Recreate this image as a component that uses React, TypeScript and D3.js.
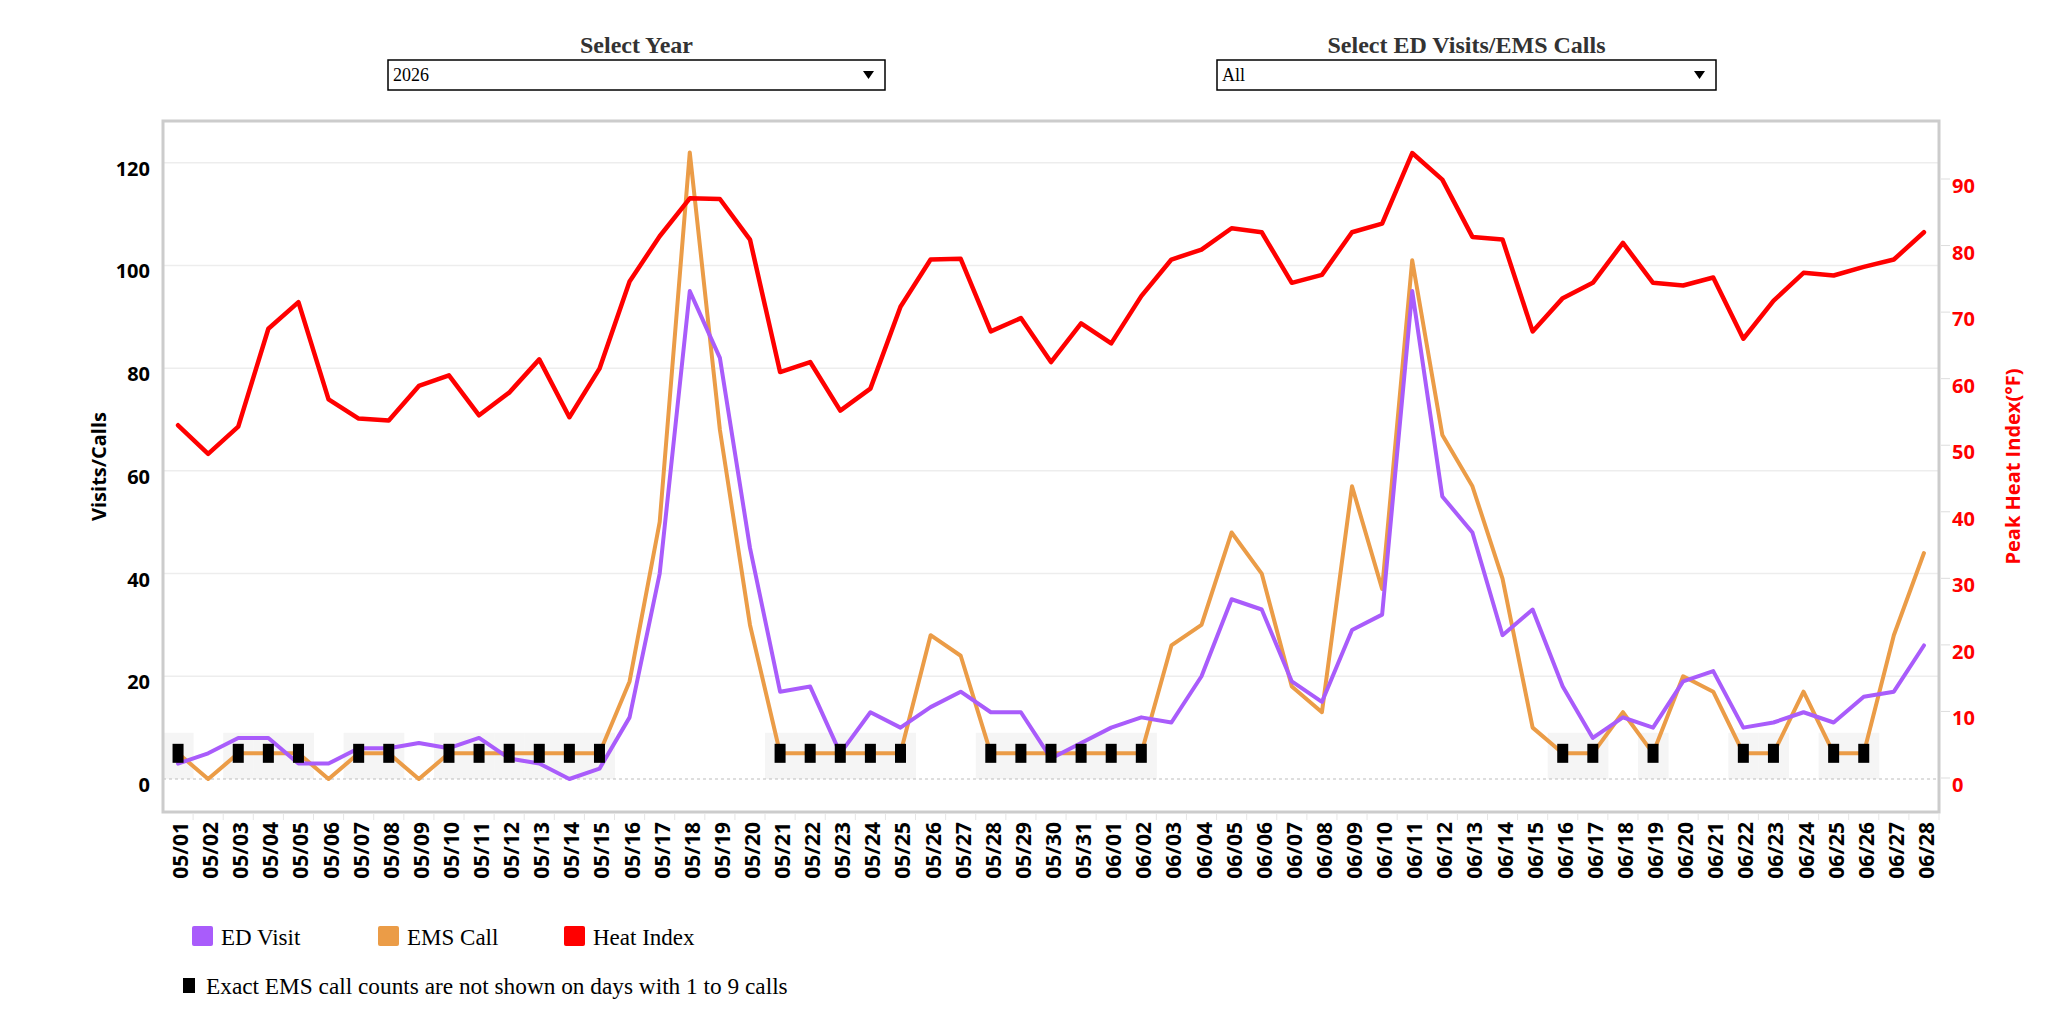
import React from 'react';
import * as d3 from 'd3';

// daily categories, 05/01 - 06/28
const days = [
  '05/01', '05/02', '05/03', '05/04', '05/05', '05/06', '05/07', '05/08', '05/09', '05/10',
  '05/11', '05/12', '05/13', '05/14', '05/15', '05/16', '05/17', '05/18', '05/19', '05/20',
  '05/21', '05/22', '05/23', '05/24', '05/25', '05/26', '05/27', '05/28', '05/29', '05/30',
  '05/31', '06/01', '06/02', '06/03', '06/04', '06/05', '06/06', '06/07', '06/08', '06/09',
  '06/10', '06/11', '06/12', '06/13', '06/14', '06/15', '06/16', '06/17', '06/18', '06/19',
  '06/20', '06/21', '06/22', '06/23', '06/24', '06/25', '06/26', '06/27', '06/28',
];

const edVisits = [
  3, 5, 8, 8, 3, 3, 6, 6, 7, 6, 8, 4, 3, 0, 2,
  12, 40, 95, 82, 45, 17, 18, 5, 13, 10, 14, 17, 13, 13, 4,
  7, 10, 12, 11, 20, 35, 33, 19, 15, 29, 32, 95, 55, 48, 28,
  33, 18, 8, 12, 10, 19, 21, 10, 11, 13, 11, 16, 17, 26,
];

// null = 1 to 9 calls (not shown exactly)
const emsCalls: (number | null)[] = [
  null, 0, null, null, null, 0, null, null, 0, null, null, null, null, null, null,
  19, 50, 122, 68, 30, null, null, null, null, null, 28, 24, null, null, null,
  null, null, null, 26, 30, 48, 40, 18, 13, 57, 37, 101, 67, 57, 39,
  10, null, null, 13, null, 20, 17, null, null, 17, null, null, 28, 44,
];

const heatIndex = [
  53.0, 48.7, 52.8, 67.5, 71.5, 56.9, 54.0, 53.7, 58.9, 60.5, 54.5, 57.9, 62.9, 54.2, 61.5,
  74.6, 81.4, 87.1, 87.0, 80.9, 61.0, 62.5, 55.2, 58.5, 70.8, 77.9, 78.0, 67.1, 69.1, 62.5,
  68.3, 65.3, 72.4, 77.9, 79.4, 82.6, 82.0, 74.4, 75.6, 82.0, 83.3, 93.9, 89.9, 81.3, 80.9,
  67.1, 72.1, 74.4, 80.4, 74.4, 74.0, 75.2, 66.0, 71.7, 75.9, 75.5, 76.8, 77.9, 82.0,
];

const leftTicks = [0, 20, 40, 60, 80, 100, 120];
const rightTicks = [0, 10, 20, 30, 40, 50, 60, 70, 80, 90];

const suppressedShown = 5;
const suppressedMax = 9;

const colors = {
  ed: '#a95cfb',
  ems: '#eb9c47',
  heat: '#ff0000',
};

const legendItems = [
  { label: 'ED Visit', color: colors.ed },
  { label: 'EMS Call', color: colors.ems },
  { label: 'Heat Index', color: colors.heat },
];

const dim = {
  width: 2048,
  height: 1021,
  left: 163,
  right: 1939,
  top: 121,
  bottom: 812,
};

const sans = "'Open Sans', 'Noto Sans', sans-serif";
const serif = "'Liberation Serif', 'Times New Roman', serif";

const Dropdown = ({ title, value, x, w }: { title: string; value: string; x: number; w: number }) => (
  <g>
    <text x={x + w / 2} y={53} textAnchor="middle" fontFamily={serif} fontWeight="bold" fontSize={24} fill="#333">
      {title}
    </text>
    <rect x={x} y={60} width={w} height={30} fill="#fff" stroke="#000" strokeWidth={1.5} />
    <text x={x + 5} y={81} fontFamily={serif} fontSize={18} fill="#000">
      {value}
    </text>
    <path d={`M${x + w - 22},71 h11 l-5.5,8 z`} fill="#000" />
  </g>
);

const App = () => {
  const x = d3.scaleBand<string>().domain(days).range([dim.left, dim.right]);
  const bw = x.bandwidth();
  const cx = (i: number) => (x(days[i]) as number) + bw / 2;

  const yL = d3.scaleLinear().domain([0, 120]).range([779, 162.7]);
  const yR = d3.scaleLinear().domain([0, 90]).range([778, 179]);

  const leftLine = d3
    .line<number>()
    .x((_, i) => cx(i))
    .y((v) => yL(v));
  const rightLine = d3
    .line<number>()
    .x((_, i) => cx(i))
    .y((v) => yR(v));

  const emsPlotted = emsCalls.map((v) => (v === null ? suppressedShown : v));
  const suppressedIdx = emsCalls.map((v, i) => (v === null ? i : -1)).filter((i) => i >= 0);

  return (
    <svg
      width={dim.width}
      height={dim.height}
      style={{ position: 'absolute', left: 0, top: 0, background: '#fff' }}
    >
      <Dropdown title="Select Year" value="2026" x={388} w={497} />
      <Dropdown title="Select ED Visits/EMS Calls" value="All" x={1217} w={499} />

      {/* grid */}
      {leftTicks
        .filter((t) => t > 0)
        .map((t) => (
          <line key={t} x1={dim.left} x2={dim.right} y1={yL(t)} y2={yL(t)} stroke="#ededed" strokeWidth={1.5} />
        ))}

      {/* bands behind suppressed EMS days */}
      {suppressedIdx.map((i) => (
        <rect
          key={`b${i}`}
          x={x(days[i]) as number}
          width={bw + 0.5}
          y={yL(suppressedMax)}
          height={yL(0) - yL(suppressedMax)}
          fill="#f5f5f5"
        />
      ))}

      <line
        x1={dim.left}
        x2={dim.right}
        y1={yL(0)}
        y2={yL(0)}
        stroke="#bdbdbd"
        strokeWidth={1}
        strokeDasharray="3,3"
      />

      {/* border */}
      <rect
        x={dim.left}
        y={dim.top}
        width={dim.right - dim.left}
        height={dim.bottom - dim.top}
        fill="none"
        stroke="#cccccc"
        strokeWidth={3}
      />

      {/* x ticks + labels */}
      {days.map((d) => (
        <line
          key={`t${d}`}
          x1={(x(d) as number) + bw}
          x2={(x(d) as number) + bw}
          y1={dim.bottom + 1}
          y2={dim.bottom + 8}
          stroke="#e6e6e6"
          strokeWidth={1}
        />
      ))}
      {days.map((d, i) => (
        <text
          key={`l${d}`}
          transform={`translate(${cx(i) + 10},822) rotate(-90)`}
          textAnchor="end"
          fontFamily={sans}
          fontWeight="bold"
          fontSize={21}
          fill="#000"
        >
          {d}
        </text>
      ))}

      {/* left axis */}
      {leftTicks.map((t) => (
        <text
          key={`yl${t}`}
          x={150}
          y={yL(t) + 13}
          textAnchor="end"
          fontFamily={sans}
          fontWeight="bold"
          fontSize={20}
          fill="#000"
        >
          {t}
        </text>
      ))}
      <text
        transform={`translate(106,${(dim.top + dim.bottom) / 2}) rotate(-90)`}
        textAnchor="middle"
        fontFamily={sans}
        fontWeight="bold"
        fontSize={20}
        fill="#000"
      >
        Visits/Calls
      </text>

      {/* right axis */}
      {rightTicks.map((t) => (
        <g key={`yr${t}`}>
          <line x1={dim.right + 2} x2={dim.right + 11} y1={yR(t)} y2={yR(t)} stroke="#dddddd" strokeWidth={1} />
          <text
            x={1952}
            y={yR(t) + 14}
            fontFamily={sans}
            fontWeight="bold"
            fontSize={20}
            fill={colors.heat}
          >
            {t}
          </text>
        </g>
      ))}
      <text
        transform={`translate(2020,${(dim.top + dim.bottom) / 2}) rotate(-90)`}
        textAnchor="middle"
        fontFamily={sans}
        fontWeight="bold"
        fontSize={20}
        fill={colors.heat}
      >
        Peak Heat Index(°F)
      </text>

      {/* series */}
      <path
        d={leftLine(emsPlotted) ?? ''}
        fill="none"
        stroke={colors.ems}
        strokeWidth={4}
        strokeLinejoin="round"
        strokeLinecap="round"
      />
      <path
        d={leftLine(edVisits) ?? ''}
        fill="none"
        stroke={colors.ed}
        strokeWidth={4}
        strokeLinejoin="round"
        strokeLinecap="round"
      />
      <path
        d={rightLine(heatIndex) ?? ''}
        fill="none"
        stroke={colors.heat}
        strokeWidth={4.5}
        strokeLinejoin="round"
        strokeLinecap="round"
      />
      {suppressedIdx.map((i) => (
        <rect key={`m${i}`} x={cx(i) - 5.5} y={yL(suppressedShown) - 9.5} width={11} height={19} fill="#000" />
      ))}

      {/* legend */}
      {legendItems.map((item, i) => {
        const lx = [192, 378, 564][i];
        return (
          <g key={item.label}>
            <rect x={lx} y={926} width={21} height={20} rx={2} fill={item.color} />
            <text x={lx + 29} y={945} fontFamily={serif} fontSize={23} fill="#000">
              {item.label}
            </text>
          </g>
        );
      })}
      <rect x={183} y={978} width={12} height={15} fill="#000" />
      <text x={206} y={994} fontFamily={serif} fontSize={23.3} fill="#000">
        Exact EMS call counts are not shown on days with 1 to 9 calls
      </text>
    </svg>
  );
};

export default App;
